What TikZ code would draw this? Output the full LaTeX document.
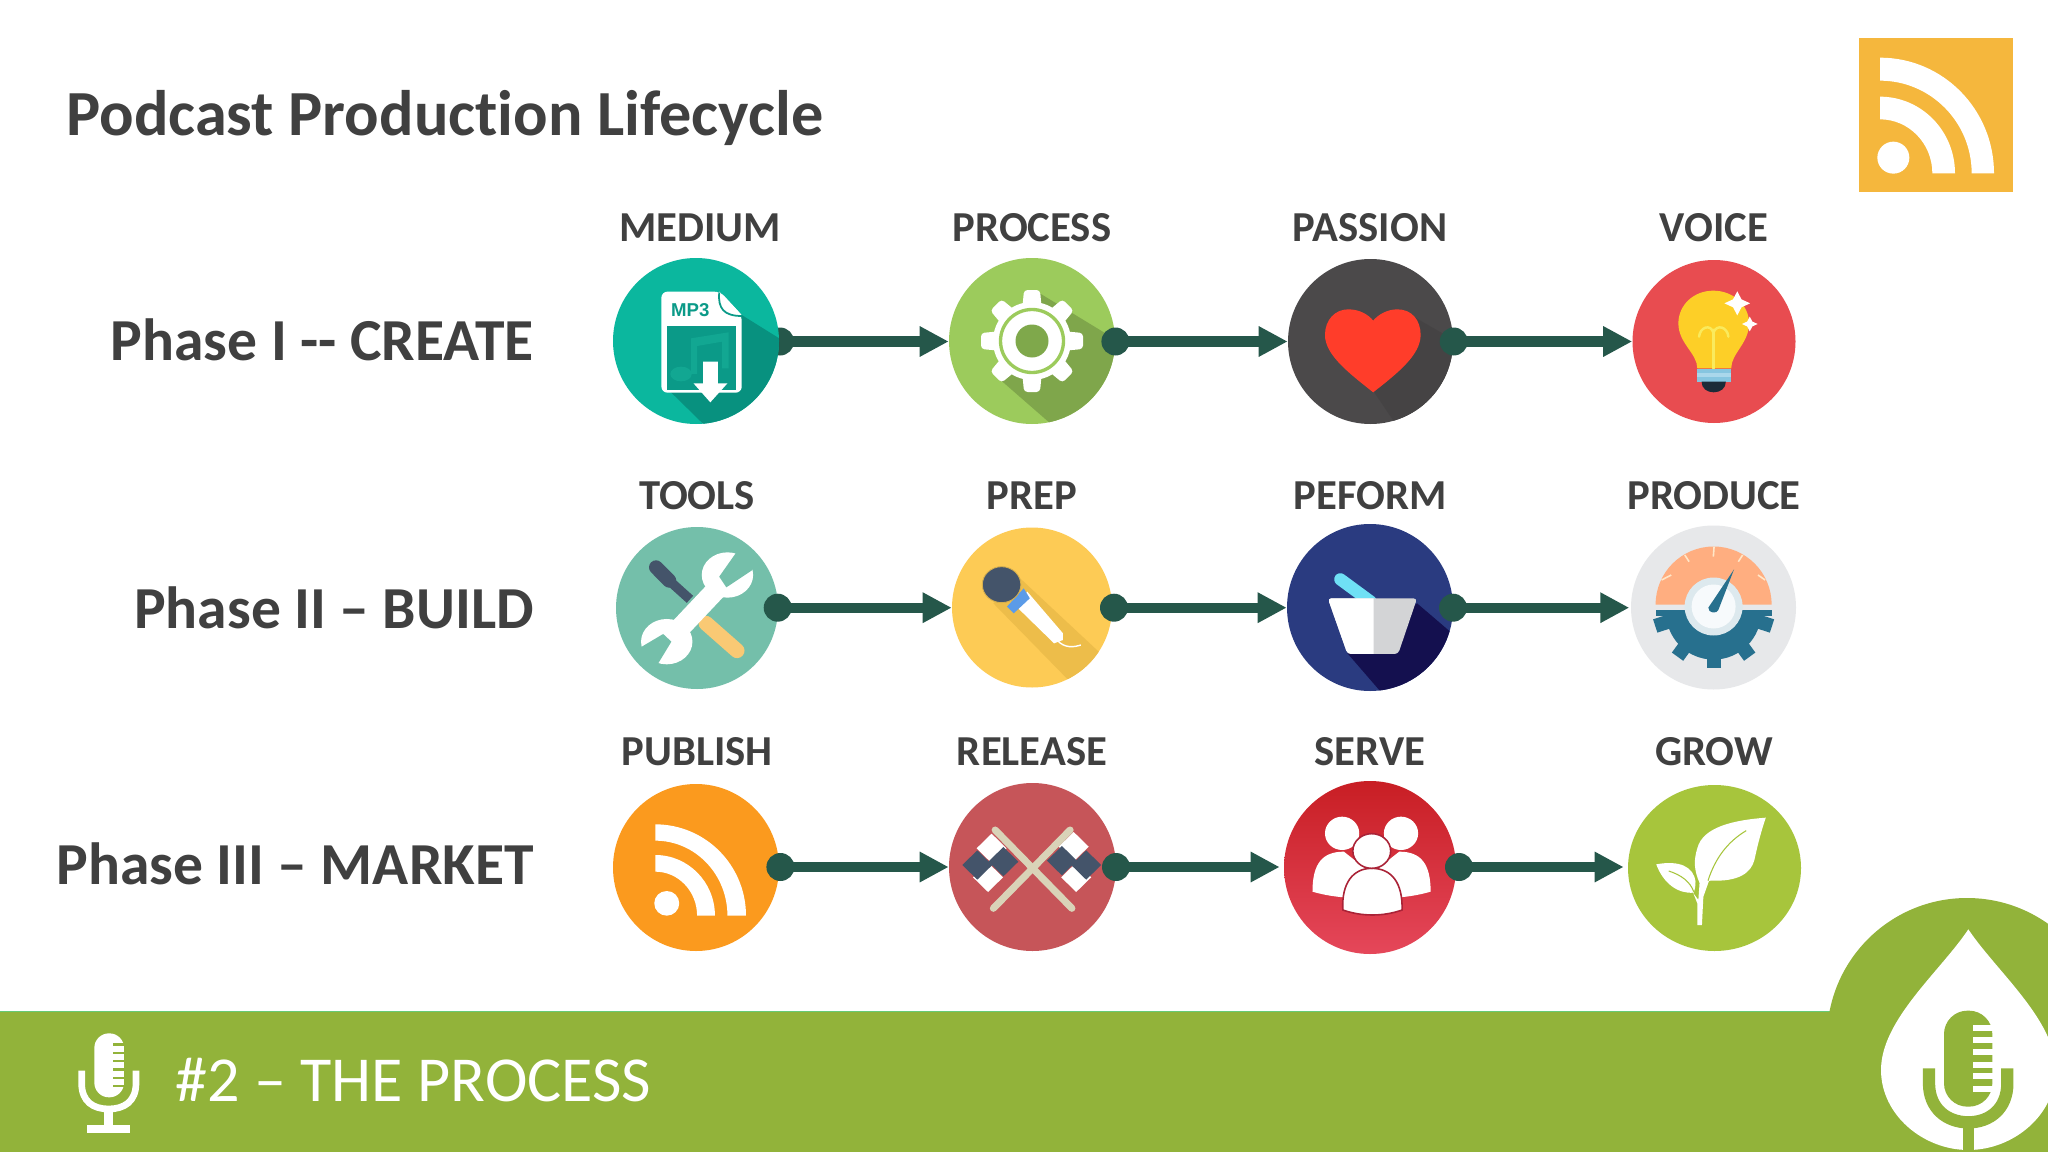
\documentclass[tikz,border=0pt]{standalone}
\usepackage{fontspec}
\setmainfont{Carlito}[Ligatures=NoCommon]
\newfontfamily\arialfont{Liberation Sans}
\usetikzlibrary{arrows.meta,shapes.geometric}
\definecolor{txt}{HTML}{404040}
\definecolor{band}{HTML}{92B33A}
\definecolor{conn}{HTML}{25574A}
\definecolor{navy}{HTML}{44546A}
\definecolor{ca}{RGB}{11,183,158}
\definecolor{cb}{RGB}{156,203,92}
\definecolor{cc}{RGB}{75,73,74}
\definecolor{cd}{RGB}{232,76,80}
\definecolor{ce}{RGB}{116,191,170}
\definecolor{cf}{RGB}{253,203,85}
\definecolor{cg}{RGB}{42,59,128}
\definecolor{ch}{RGB}{231,232,234}
\definecolor{ci}{RGB}{251,154,30}
\definecolor{cj}{RGB}{198,85,89}
\definecolor{ck}{RGB}{200,30,36}
\definecolor{cl}{RGB}{229,71,90}
\definecolor{growgreen}{RGB}{167,197,60}
\definecolor{tile}{RGB}{245,183,61}
\definecolor{teald}{RGB}{11,154,136}
\definecolor{gaugeblue}{RGB}{39,112,142}
\definecolor{mortarshade}{RGB}{211,212,214}
\tikzset{
  disc/.style n args={3}{ellipse,inner sep=0pt,minimum width=#1*0.02cm,minimum height=#2*0.02cm,fill=#3},
  dotnode/.style={circle,inner sep=0pt,minimum size=28*0.02cm,fill=conn},
  link/.style={draw=conn,line width=5.7pt,-{Triangle[length=16.5pt,width=16.3pt]}},
  steplabel/.style={font=\fontsize{24.3}{28}\selectfont\bfseries,text=txt,inner sep=0pt,anchor=center},
  phaselabel/.style={font=\fontsize{33.9}{38}\selectfont\bfseries,text=txt,inner sep=0pt,anchor=east},
  wide/.style 2 args={shift={(#1,#2)},x=0.0071429cm,y=-0.0066667cm},
  true/.style 2 args={shift={(#1,#2)},x=0.0066667cm,y=-0.0066667cm}
}
\newcommand{\rssband}[6]{\fill[white] (#1,{#2-#4}) .. controls ({#1+.5523*#3},{#2-#4}) and ({#1+#3},{#2-.5523*#4}) .. ({#1+#3},#2) -- ({#1+#5},#2) .. controls ({#1+#5},{#2-.5523*#6}) and ({#1+.5523*#5},{#2-#6}) .. (#1,{#2-#6}) -- cycle;}
\newcommand{\sparkle}[3]{\fill[white] (#1,{#2-#3}) -- ({#1+.33*#3},{#2-.33*#3}) -- ({#1+#3},#2) -- ({#1+.33*#3},{#2+.33*#3}) -- (#1,{#2+#3}) -- ({#1-.33*#3},{#2+.33*#3}) -- ({#1-#3},#2) -- ({#1-.33*#3},{#2-.33*#3}) -- cycle;}
\begin{document}
\begin{tikzpicture}[x=0.02cm,y=-0.02cm]
\useasboundingbox (0,0) rectangle (2048,1152);
\fill[white] (0,0) rectangle (2048,1152);

% bottom band and logo
\fill[band] (0,1011.5) rectangle (2048,1152);
\draw[color=band!70!cyan,line width=0.6pt] (0,1011.5) -- (1840,1011.5);
\begin{scope}
\clip (0,0) rectangle (2048,1152);
\fill[band] (1967,1038) circle[radius=140];
\begin{scope}[true={1780}{880}]
\fill[white] (565,148) .. controls (480,275) and (303,420) .. (303,570) .. controls (303,705) and (430,810) .. (565,810) .. controls (700,810) and (827,705) .. (827,570) .. controls (827,420) and (650,275) .. (565,148) -- cycle;
\fill[band,rounded corners=13.3pt] (492,392) rectangle (637,680);
\foreach \s in {435,472,508,545,580,617} \fill[white] (580,\s) rectangle (640,\s+18);
\draw[band,line width=7pt] (447,565) -- (447,610) .. controls (447,685) and (500,727) .. (565,727) .. controls (630,727) and (682,685) .. (682,610) -- (682,565);
\draw[band,line width=6.5pt] (565,727) -- (565,820);
\end{scope}
\end{scope}

% small microphone in the band
\begin{scope}[true={50}{1010}]
\fill[white,rounded corners=8.3pt] (133,70) rectangle (222,262);
\foreach \s in {100,125,150,175,200,225} \fill[band] (190,\s) rectangle (224,\s+7);
\draw[white,line width=3.8pt] (95,182) -- (95,220) .. controls (95,275) and (130,297) .. (176,297) .. controls (222,297) and (258,275) .. (258,220) -- (258,182);
\draw[white,line width=5.1pt] (176,297) -- (176,348);
\fill[white] (112,345) rectangle (240,368);
\end{scope}

% top right feed tile
\fill[tile] (1859,38) rectangle (2013,192);
\begin{scope}[true={1840}{20}]
\fill[white] (160,413) circle[radius=48];
\rssband{120}{460}{342}{347}{275}{278}
\rssband{120}{460}{225}{230}{157}{162}
\end{scope}

% texts
\node[font=\fontsize{36.6}{42}\selectfont\bfseries,text=txt,inner sep=0pt,anchor=west] (title) at (66,118) {Podcast Production Lifecycle};
\node[phaselabel] (ph1) at (534,340) {Phase I -{}- CREATE};
\node[phaselabel] (ph2) at (534,608) {Phase II – BUILD};
\node[phaselabel] (ph3) at (534,864) {Phase III – MARKET};
\node[font=\fontsize{36.5}{42}\selectfont,text=white,inner sep=0pt,anchor=west] (bandtext) at (175,1080) {\#2 – THE PROCESS};

\node[steplabel] (t11) at (700,228) {MEDIUM};
\node[steplabel] (t12) at (1032,228) {PROCESS};
\node[steplabel] (t13) at (1370,228) {PASSION};
\node[steplabel] (t14) at (1714,228) {VOICE};
\node[steplabel] (t21) at (697,496) {TOOLS};
\node[steplabel] (t22) at (1032,496) {PREP};
\node[steplabel] (t23) at (1370,496) {PEFORM};
\node[steplabel] (t24) at (1714,496) {PRODUCE};
\node[steplabel] (t31) at (697,752) {PUBLISH};
\node[steplabel] (t32) at (1032,752) {RELEASE};
\node[steplabel] (t33) at (1370,752) {SERVE};
\node[steplabel] (t34) at (1714,752) {GROW};

% dot that lies under its disc
\node[dotnode] (d11) at (780,341.5) {};

% discs
\node[disc={166}{166}{ca}] (c11) at (696,341) {};
\node[disc={166}{166}{cb}] (c12) at (1032,341) {};
\node[disc={165}{165}{cc}] (c13) at (1370.5,341.5) {};
\node[disc={163}{163}{cd}] (c14) at (1714,341.5) {};
\node[disc={162}{162}{ce}] (c21) at (697,608) {};
\node[disc={160}{160}{cf}] (c22) at (1032,607.5) {};
\node[disc={166}{167}{cg}] (c23) at (1370,607.5) {};
\node[disc={165}{164}{ch}] (c24) at (1713.5,607.5) {};
\node[disc={166}{167}{ci}] (c31) at (696,867.5) {};
\node[disc={167}{168}{cj}] (c32) at (1032.5,867) {};
\node[ellipse,inner sep=0pt,minimum width=172*0.02cm,minimum height=173*0.02cm,top color=ck,bottom color=cl] (c33) at (1370,867.5) {};
\node[disc={173}{166}{growgreen}] (c34) at (1714.5,868) {};

% MEDIUM icon
\begin{scope}
\clip (696,341) circle[radius=83];
\begin{scope}[wide={590}{240}]
\fill[color={rgb,255:red,8;green,145;blue,127}] (425,225) -- (545,305) -- (545,560) -- (325,560) -- (225,455) -- cycle;
\end{scope}
\end{scope}
\begin{scope}[wide={590}{240}]
\fill[white,rounded corners=3.4pt] (200,155) -- (365,155) -- (425,225) -- (425,458) -- (200,458) -- cycle;
\fill[teald] (215,257) rectangle (408,450);
\fill[color={rgb,255:red,18;green,167;blue,146}] (255,402) ellipse[x radius=30,y radius=22];
\fill[color={rgb,255:red,18;green,167;blue,146}] (283,295) -- (388,277) -- (388,385) -- (370,385) -- (370,305) -- (300,318) -- (300,402) -- (283,402) -- cycle;
\fill[white] (362,155) -- (425,225) -- (385,225) -- (365,200) -- cycle;
\draw[teald,line width=1pt] (362,158) .. controls (358,205) and (375,228) .. (425,228);
\fill[white] (317,365) -- (358,365) -- (358,430) -- (385,430) -- (337,487) -- (290,430) -- (317,430) -- cycle;
\node[font=\arialfont\bfseries\fontsize{10.6}{12}\selectfont,text=teald,inner sep=0pt] (mp) at (281,209) {MP3};
\end{scope}

% PROCESS icon
\begin{scope}
\clip (1032,341) circle[radius=83];
\begin{scope}[wide={590}{240}]
\fill[color={rgb,255:red,127;green,166;blue,75}] (1260,160) -- (1490,310) -- (1490,560) -- (1300,560) -- (1150,420) -- cycle;
\end{scope}
\end{scope}
\foreach \a in {0,45,...,315}
  \fill[white,rounded corners=2pt,rotate around={\a:(1032,341)}] (1022,312) -- (1024,290) -- (1040,290) -- (1042,312) -- cycle;
\fill[white] (1032,341) circle[radius=39];
\draw[color=cb,line width=1.9pt] (1032,341) circle[radius=31.5];
\fill[color={rgb,255:red,127;green,168;blue,75}] (1032,341) circle[radius=16.5];

% PASSION icon
\begin{scope}
\clip (1370.5,341.5) circle[radius=82.5];
\begin{scope}[wide={1260}{240}]
\fill[color={rgb,255:red,69;green,67;blue,68}] (430,230) -- (560,310) -- (560,560) -- (385,560) -- (320,457) -- cycle;
\end{scope}
\end{scope}
\begin{scope}[wide={1260}{240}]
\fill[color={rgb,255:red,255;green,61;blue,42}] (317,457) .. controls (250,400) and (182,345) .. (182,285) .. controls (182,240) and (210,208) .. (247,208) .. controls (280,208) and (305,225) .. (317,242) .. controls (330,225) and (355,208) .. (385,208) .. controls (425,208) and (450,240) .. (450,285) .. controls (450,345) and (385,400) .. (317,457) -- cycle;
\end{scope}

% VOICE icon
\begin{scope}[wide={1260}{240}]
\fill[color={rgb,255:red,253;green,207;blue,39}] (1225,385) .. controls (1225,340) and (1172,310) .. (1172,250) .. controls (1172,195) and (1215,152) .. (1270,152) .. controls (1325,152) and (1370,195) .. (1370,250) .. controls (1370,310) and (1320,340) .. (1320,385) -- cycle;
\draw[color={rgb,255:red,250;green,234;blue,92},line width=1.6pt,line cap=round] (1270,385) -- (1270,270);
\draw[color={rgb,255:red,250;green,234;blue,92},line width=1.4pt,line cap=round] (1230,290) .. controls (1232,262) and (1262,250) .. (1270,278) .. controls (1280,250) and (1310,262) .. (1312,290);
\fill[color={rgb,255:red,134;green,197;blue,224}] (1225,388) rectangle (1320,425);
\fill[color={rgb,255:red,170;green,215;blue,235}] (1225,400) rectangle (1320,410);
\fill[color={rgb,255:red,27;green,43;blue,56}] (1237,425) -- (1305,425) .. controls (1305,445) and (1290,457) .. (1271,457) .. controls (1252,457) and (1237,445) .. (1237,425) -- cycle;
\sparkle{1337}{190}{36}
\sparkle{1372}{252}{22}
\end{scope}

% TOOLS icon
\begin{scope}[wide={590}{510}]
\draw[navy,line width=8pt,line cap=round] (185,172) -- (222,212);
\draw[navy,line width=5.4pt] (222,212) -- (280,268);
\draw[color={rgb,255:red,249;green,201;blue,116},line width=8.5pt,line cap=round] (325,340) -- (412,422);
\draw[white,line width=11.5pt] (225,385) -- (375,215);
\fill[white] (385,195) ellipse[x radius=72,y radius=68];
\fill[white] (215,395) ellipse[x radius=72,y radius=68];
\fill[ce] (408,130) -- (362,200) -- (382,232) -- (455,180) -- (465,135) -- (420,115) -- cycle;
\fill[ce] (142,412) -- (205,372) -- (228,395) -- (190,462) -- (150,460) -- cycle;
\end{scope}

% PREP icon
\begin{scope}
\clip (1032,607.5) circle[radius=80];
\begin{scope}[wide={590}{510}]
\fill[color={rgb,255:red,237;green,189;blue,74}] (1130,280) -- (1205,205) -- (1440,440) -- (1440,530) -- (1340,510) -- cycle;
\end{scope}
\end{scope}
\begin{scope}[wide={590}{510}]
\fill[white] (1190,285) -- (1225,245) -- (1325,370) -- (1325,390) -- (1300,400) -- cycle;
\fill[color={rgb,255:red,91;green,155;blue,232}] (1168,290) -- (1215,235) -- (1232,265) -- (1187,310) -- cycle;
\fill[navy,draw={rgb,255:red,214;green,175;blue,78},line width=0.5pt] (1153,224) circle[radius=54];
\draw[white,line width=0.8pt] (1310,392) .. controls (1330,415) and (1355,412) .. (1375,405);
\end{scope}

% PEFORM icon
\begin{scope}
\clip (1370,607.5) ellipse[x radius=83,y radius=83.5];
\begin{scope}[wide={1260}{510}]
\fill[color={rgb,255:red,20;green,16;blue,79}] (440,280) -- (560,390) -- (560,560) -- (350,560) -- (245,430) -- cycle;
\end{scope}
\end{scope}
\begin{scope}[wide={1260}{510}]
\draw[color={rgb,255:red,111;green,224;blue,245},line width=7pt,line cap=round] (225,208) -- (310,275);
\fill[mortarshade,rounded corners=2pt] (190,265) -- (440,265) -- (387,432) -- (245,432) -- cycle;
\begin{scope}
\clip (100,200) rectangle (318,500);
\fill[white,rounded corners=2pt] (190,265) -- (440,265) -- (387,432) -- (245,432) -- cycle;
\end{scope}
\end{scope}

% PRODUCE icon
\fill[color={rgb,255:red,255;green,174;blue,128}] (1655.6,604.5) .. controls (1655.6,572.5) and (1681.6,546.5) .. (1713.6,546.5) .. controls (1745.6,546.5) and (1771.6,572.5) .. (1771.6,604.5) -- cycle;
\fill[gaugeblue] (1655.6,610) rectangle (1771.6,616);
\foreach \a in {-18,-54,-90,-126,-162}
  \fill[gaugeblue,rotate around={\a:(1713.6,607)}] (1750,600) rectangle (1775,614);
\fill[gaugeblue] (1666,612) .. controls (1666,638) and (1687,659.6) .. (1713.6,659.6) .. controls (1740,659.6) and (1761.2,638) .. (1761.2,612) -- cycle;
\fill[color={rgb,255:red,221;green,233;blue,238}] (1713.6,606.5) circle[radius=29];
\fill[color={rgb,255:red,247;green,250;blue,252}] (1713.6,606.5) circle[radius=22];
\begin{scope}[wide={1260}{510}]
\draw[color={rgb,255:red,255;green,231;blue,200},line width=0.9pt] (1272,110) -- (1270,140);
\draw[color={rgb,255:red,255;green,231;blue,200},line width=0.9pt] (1190,135) -- (1202,155);
\draw[color={rgb,255:red,255;green,231;blue,200},line width=0.9pt] (1352,135) -- (1340,155);
\draw[color={rgb,255:red,255;green,231;blue,200},line width=0.9pt] (1125,210) -- (1152,195);
\draw[color={rgb,255:red,255;green,231;blue,200},line width=0.9pt] (1415,210) -- (1395,195);
\fill[gaugeblue] (1256,293) -- (1328,178) -- (1284,300) .. controls (1280,312) and (1255,310) .. (1256,293) -- cycle;
\end{scope}

% PUBLISH icon
\begin{scope}[wide={590}{770}]
\fill[white] (215,400) ellipse[x radius=35,y radius=37];
\rssband{183}{437}{254}{274}{202}{225}
\rssband{183}{437}{167}{182}{117}{132}
\end{scope}

% RELEASE icon
\begin{scope}[wide={590}{770}]
\foreach \x/\y/\c in {1125/235/white,1115/322/white,1085/285/navy,1158/275/navy,1355/230/white,1362/322/white,1390/285/navy,1322/272/navy}
  \fill[\c] (\x,\y-44) -- (\x+42,\y) -- (\x,\y+44) -- (\x-42,\y) -- cycle;
\draw[color={rgb,255:red,217;green,211;blue,184},line width=4pt,line cap=round] (1135,180) -- (1350,415);
\draw[color={rgb,255:red,217;green,211;blue,184},line width=4pt,line cap=round] (1345,180) -- (1130,415);
\end{scope}

% SERVE icon
\begin{scope}[wide={1260}{770}]
\fill[white] (147,365) .. controls (147,280) and (175,245) .. (235,245) -- (300,300) -- (300,385) .. controls (245,385) and (195,380) .. (147,365) -- cycle;
\fill[white] (478,365) .. controls (478,280) and (450,245) .. (390,245) -- (325,300) -- (325,385) .. controls (380,385) and (430,380) .. (478,365) -- cycle;
\fill[white] (230,190) ellipse[x radius=48,y radius=50];
\fill[white] (395,190) ellipse[x radius=48,y radius=50];
\fill[white,draw={rgb,255:red,170;green,35;blue,55},line width=0.9pt] (232,420) .. controls (228,340) and (260,295) .. (313,295) .. controls (370,295) and (400,340) .. (398,420) .. controls (345,440) and (285,440) .. (232,420) -- cycle;
\fill[white,draw={rgb,255:red,170;green,35;blue,55},line width=0.9pt] (313,243) ellipse[x radius=53,y radius=52];
\end{scope}

% GROW icon
\begin{scope}[wide={1260}{770}]
\fill[white] (1417,143) .. controls (1330,150) and (1240,170) .. (1225,235) .. controls (1215,270) and (1215,300) .. (1232,340) -- (1262,332) .. controls (1340,335) and (1375,310) .. (1385,270) .. controls (1395,220) and (1405,180) .. (1417,143) -- cycle;
\fill[white] (1110,283) .. controls (1175,270) and (1215,290) .. (1220,335) .. controls (1220,350) and (1218,360) .. (1215,368) .. controls (1170,372) and (1130,340) .. (1110,283) -- cycle;
\fill[white] (1225,465) -- (1238,465) -- (1242,380) -- (1262,320) -- (1232,330) -- (1228,390) -- (1190,335) -- (1205,345) -- (1225,400) -- cycle;
\draw[growgreen,line width=0.6pt] (1255,332) .. controls (1275,265) and (1310,215) .. (1362,182);
\draw[growgreen,line width=0.6pt] (1215,365) .. controls (1205,335) and (1180,315) .. (1145,303);
\end{scope}

% remaining dots, over the discs
\node[dotnode] (d12) at (1115.4,341.5) {};
\node[dotnode] (d13) at (1453.7,341.5) {};
\node[dotnode] (d21) at (777.7,607.7) {};
\node[dotnode] (d22) at (1114,607.7) {};
\node[dotnode] (d23) at (1453,607.7) {};
\node[dotnode] (d31) at (780.4,867) {};
\node[dotnode] (d32) at (1116,867) {};
\node[dotnode] (d33) at (1459,867) {};

% connectors
\draw[link] (d11.center) -- (d11.center -| c12.west);
\draw[link] (d12.center) -- (d12.center -| c13.west);
\draw[link] (d13.center) -- (d13.center -| c14.west);
\draw[link] (d21.center) -- (d21.center -| c22.west);
\draw[link] (d22.center) -- (d22.center -| c23.west);
\draw[link,shorten >=0.8pt] (d23.center) -- (d23.center -| c24.west);
\draw[link] (d31.center) -- (d31.center -| c32.west);
\draw[link,shorten >=2.3pt] (d32.center) -- (d32.center -| c33.west);
\draw[link,shorten >=2.3pt] (d33.center) -- (d33.center -| c34.west);
\end{tikzpicture}
\end{document}
